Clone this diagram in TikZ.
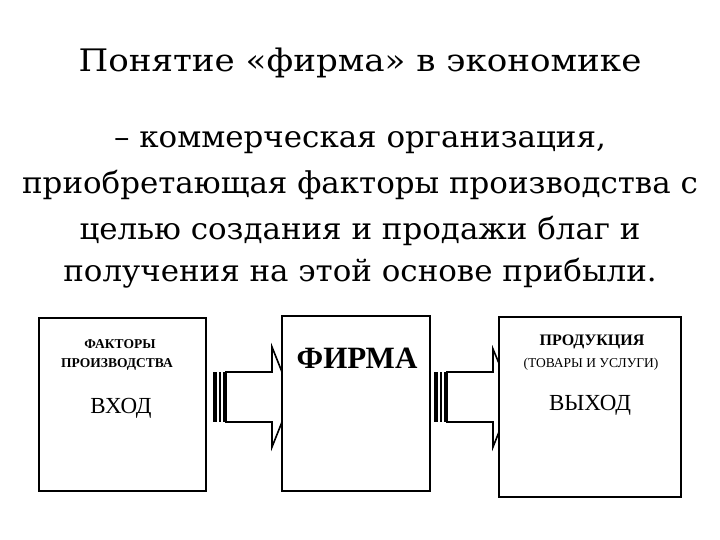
\documentclass[tikz,border=0pt]{standalone}
\usepackage{fontspec}
\setmainfont{Liberation Serif}
\newfontfamily\headfont{DejaVu Serif}
\begin{document}
\begin{tikzpicture}[x=1pt,y=-1pt,
  box/.style={draw,line width=1.6pt,fill=white},
  arr/.style={draw,line width=1.6pt,fill=white},
  txt/.style={inner sep=0pt,anchor=base},
  head/.style={txt,font=\headfont\fontsize{30}{30}\selectfont,xscale=1.03,transform shape}]
\useasboundingbox (0,0) rectangle (720,540);
\node[txt,font=\headfont\fontsize{31}{31}\selectfont,xscale=1.1,transform shape] (title) at (360,72) {Понятие «фирма» в экономике};
\node[head] (l1) at (360,148) {– коммерческая организация,};
\node[head] (l2) at (360,194) {приобретающая факторы производства с};
\node[head] (l3) at (360,240) {целью создания и продажи благ и};
\node[head] (l4) at (360,281) {получения на этой основе прибыли.};
% arrows (drawn first, boxes overlap head)
\draw[arr] (226,372) -- (272,372) -- (272,347) -- (292,397) -- (272,447) -- (272,422) -- (226,422) -- cycle;
\fill (213,372) rectangle (217,422);
\fill (219,372) rectangle (221,422);
\fill (223,372) rectangle (226,422);
\draw[arr] (447,372) -- (493,372) -- (493,349) -- (513,397) -- (493,447) -- (493,422) -- (447,422) -- cycle;
\fill (434,372) rectangle (438,422);
\fill (440,372) rectangle (442,422);
\fill (444,372) rectangle (447,422);
\node[box,minimum width=167,minimum height=173,anchor=north west] (in) at (38,317) {};
\node[box,minimum width=148,minimum height=175,anchor=north west] (firm) at (281,315) {};
\node[box,minimum width=182,minimum height=180,anchor=north west] (out) at (498,316) {};
\node[txt,font=\bfseries\fontsize{13.5}{13.5}\selectfont] (f1) at (120,348) {ФАКТОРЫ};
\node[txt,font=\bfseries\fontsize{13.5}{13.5}\selectfont] (f2) at (117,367) {ПРОИЗВОДСТВА};
\node[txt,font=\fontsize{23}{23}\selectfont] (vin) at (121,413) {ВХОД};
\node[txt,font=\bfseries\fontsize{31}{31}\selectfont] (fn) at (357,368) {ФИРМА};
\node[txt,font=\bfseries\fontsize{16}{16}\selectfont] (p1) at (592,345) {ПРОДУКЦИЯ};
\node[txt,font=\fontsize{13.5}{13.5}\selectfont] (p2) at (591,367) {(ТОВАРЫ И УСЛУГИ)};
\node[txt,font=\fontsize{23}{23}\selectfont] (vout) at (590,410) {ВЫХОД};
\end{tikzpicture}
\end{document}
